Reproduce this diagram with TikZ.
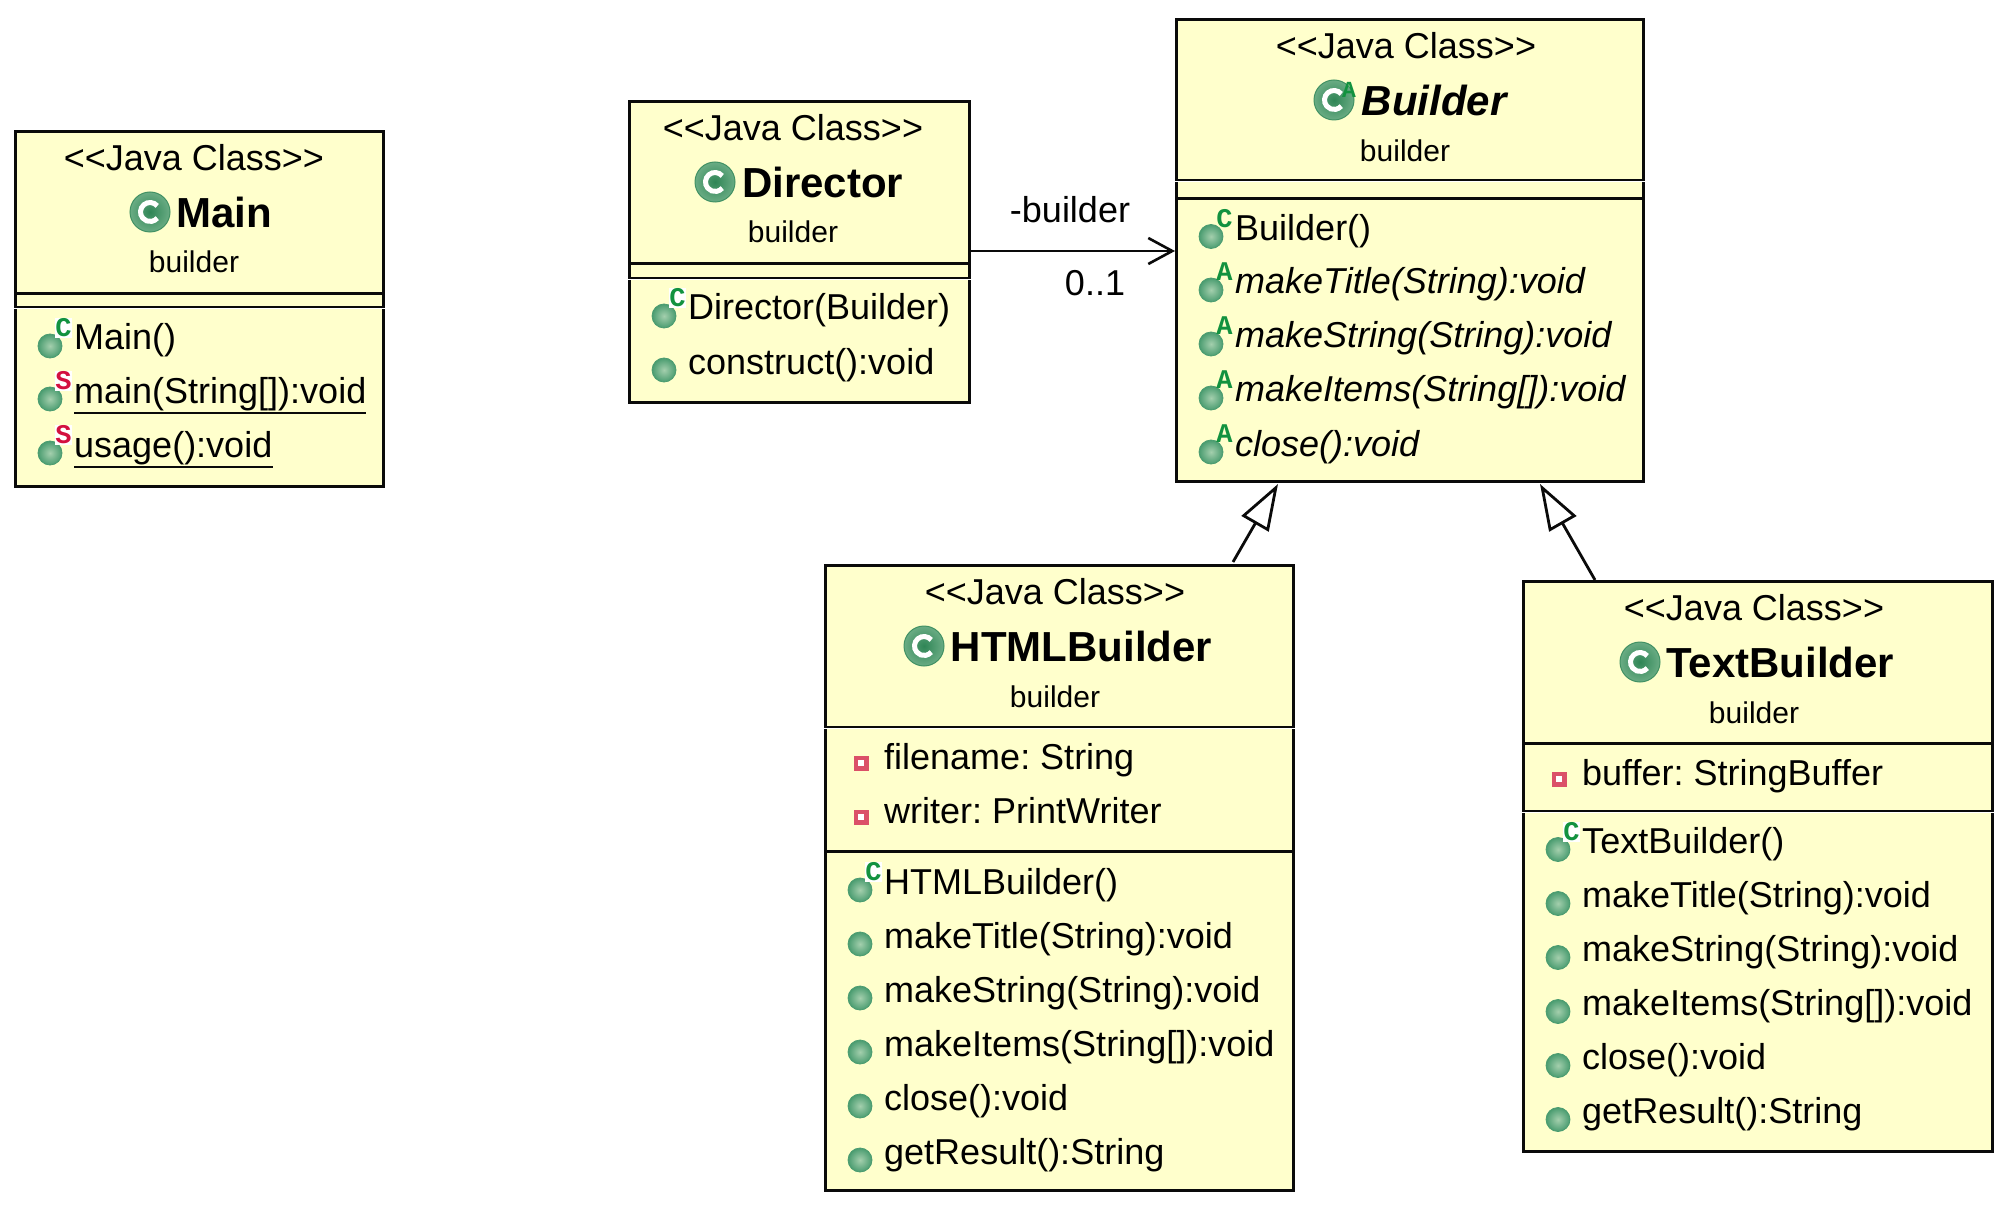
\documentclass[tikz,border=0pt]{standalone}
\usepackage{fontspec}
\setmainfont{Liberation Sans}
\newfontfamily\markfont{Liberation Mono}
\usetikzlibrary{arrows.meta,calc}
\definecolor{umlfill}{HTML}{FFFFCC}
\definecolor{umlline}{HTML}{0A0A0A}
\definecolor{ballin}{HTML}{A4CFAD}
\definecolor{ballout}{HTML}{4A9C70}
\definecolor{gout}{HTML}{6AAC84}
\definecolor{gin}{HTML}{2F8556}
\definecolor{markgreen}{HTML}{12923F}
\definecolor{markred}{HTML}{D3103F}
\definecolor{fieldred}{HTML}{DB5068}
\tikzset{
 x=1pt,y=-1pt,
 umlbox/.style={draw=umlline,fill=umlfill,line width=3pt,rectangle,inner sep=0pt,anchor=north west},
 sliver/.style={draw=white,line width=1.1pt},
 stereo/.style={anchor=base,inner sep=0pt,font=\fontsize{36}{40}\selectfont},
 pkg/.style={anchor=base,inner sep=0pt,font=\fontsize{30}{34}\selectfont},
 titletxt/.style={anchor=base west,inner sep=0pt,font=\fontsize{42}{46}\selectfont\bfseries},
 rowtxt/.style={anchor=base west,inner sep=0pt,font=\frenchspacing\fontsize{36}{40}\selectfont},
 ballicon/.style={circle,minimum size=24pt,inner sep=0pt,shading=radial,inner color=ballin,outer color=ballout,draw=ballout,line width=.8pt},
 gball/.style={circle,minimum size=40pt,inner sep=0pt,shading=radial,inner color=gin,middle color=gin,outer color=gout,draw=gin!70!gout,line width=1pt},
 markc/.style={inner sep=0pt,font=\fontsize{27}{27}\selectfont\markfont\bfseries,text=markgreen},
 marks/.style={inner sep=0pt,font=\fontsize{27}{27}\selectfont\markfont\bfseries,text=markred},
 markbg/.style={fill=white,minimum width=14pt,minimum height=20pt},
 fieldicon/.style={rectangle,minimum size=15pt,inner sep=0pt,fill=fieldred},
 fielddot/.style={rectangle,minimum size=5.5pt,inner sep=0pt,fill=white},
 assoc/.style={draw=umlline,line width=2.6pt,-{Straight Barb[length=24pt,width=26pt,line width=2.6pt]}},
 gen/.style={draw=umlline,line width=2.8pt,-{Triangle[open,length=46pt,width=31pt,line width=2.8pt,fill=white]}},
}
\newcommand{\compart}[5]{\node[umlbox,minimum width=#4-#2,minimum height=#5-#3] (#1) at (#2,#3) {};}
\newcommand{\glyphG}[1]{%
 \draw[white,line width=5pt] ([shift={(40:9.5pt)}]#1.center) arc[start angle=40,end angle=320,radius=9.5pt];}
% #1 name, #2 top, #3 centre, #4 title, #5 title x, #6 icon x
\newcommand{\headtxt}[6]{%
 \node[stereo] (#1st) at (#3,#2+40.5) {<{}<Java Class>{}>};
 \node[pkg] (#1pk) at (#3,#2+143) {builder};
 \node[gball] (#1gi) at (#6+1,#2+82) {};
 \glyphG{#1gi}
 \node[titletxt] (#1ti) at (#5,#2+97.5) {#4};
}
\newcommand{\mrow}[4]{\node[ballicon] (#1i) at (#2+36,#3-4) {};
 \node[rowtxt] (#1) at (#2+60,#3) {#4};}
\newcommand{\cmark}[3]{\node[markc] (#1m) at (#2+49.5,#3-22) {C};}
\newcommand{\cwmark}[3]{\node[markc,markbg] (#1m) at (#2+49.5,#3-22) {C};}
\newcommand{\smark}[3]{\node[marks,markbg] (#1m) at (#2+49.5,#3-22) {S};}
\newcommand{\amark}[3]{\node[markc] (#1m) at (#2+49.5,#3-22) {A};}
\newcommand{\frow}[4]{\node[fieldicon] (#1i) at (#2+37,#3-6) {};
 \node[fielddot] (#1d) at (#1i.center) {};
 \node[rowtxt] (#1) at (#2+60,#3) {#4};}
\newcommand{\ul}[1]{\draw[umlline,line width=2pt] ([yshift=-10pt]#1.base west) -- ([yshift=-10pt]#1.base east);}
\begin{document}
\begin{tikzpicture}
\useasboundingbox[fill=white] (0,0) rectangle (2006,1206);
\begin{scope}[shift={(-1,-1)}]
% Main
\compart{mainops}{15}{307}{383}{486}
\compart{mainattr}{15}{293}{383}{307}
\compart{mainhead}{15}{131}{383}{293}
\draw[sliver] ($(mainops.north west)+(-2,2.2)$) -- ($(mainops.north east)+(2,2.2)$);
\headtxt{main}{131}{195}{Main}{177}{150}
\mrow{mainr}{15}{351}{Main()}\cwmark{mainr}{15}{351}
\mrow{mainu}{15}{404}{main(String[]):void}\smark{mainu}{15}{404}
\mrow{mainv}{15}{458}{usage():void}\smark{mainv}{15}{458}
\ul{mainu}\ul{mainv}
% Director
\compart{dirops}{629}{278}{969}{402}
\compart{dirattr}{629}{263}{969}{278}
\compart{dirhead}{629}{101}{969}{263}
\draw[sliver] ($(dirops.north west)+(-2,2.2)$) -- ($(dirops.north east)+(2,2.2)$);
\headtxt{dir}{101}{794}{Director}{743}{715}
\mrow{dira}{629}{321}{Director(Builder)}\cwmark{dira}{629}{321}
\mrow{dirb}{629}{375}{construct():void}
% Builder
\compart{bldops}{1176}{198}{1643}{481}
\compart{bldattr}{1176}{180}{1643}{198}
\compart{bldhead}{1176}{19}{1643}{180}
\draw[sliver] ($(bldattr.north west)+(-2,2.2)$) -- ($(bldattr.north east)+(2,2.2)$);
\node[stereo] (bldst) at (1407,59.5) {<{}<Java Class>{}>};
\node[pkg] (bldpk) at (1406,163) {builder};
\node[gball] (bldgi) at (1335,101) {};
\glyphG{bldgi}
\node[markc,font=\fontsize{23}{23}\selectfont\markfont\bfseries] (bldgm) at (1350,91) {A};
\node[titletxt,font=\fontsize{42}{46}\selectfont\bfseries\itshape] (bldti) at (1362.5,116.5) {Builder};
\mrow{blda}{1176}{241.5}{Builder()}\cmark{blda}{1176}{241.5}
\mrow{bldb}{1176}{295}{\itshape makeTitle(String):void}\amark{bldb}{1176}{295}
\mrow{bldc}{1176}{349}{\itshape makeString(String):void}\amark{bldc}{1176}{349}
\mrow{bldd}{1176}{403}{\itshape makeItems(String[]):void}\amark{bldd}{1176}{403}
\mrow{blde}{1176}{457}{\itshape close():void}\amark{blde}{1176}{457}
% HTMLBuilder
\compart{htmlops}{825}{851}{1293}{1190}
\compart{htmlattr}{825}{727}{1293}{851}
\compart{htmlhead}{825}{565}{1293}{727}
\draw[sliver] ($(htmlattr.north west)+(-2,2.2)$) -- ($(htmlattr.north east)+(2,2.2)$);
\headtxt{html}{565}{1056}{HTMLBuilder}{951.5}{924}
\frow{htmla}{825}{770}{filename: String}
\frow{htmlb}{825}{824}{writer: PrintWriter}
\mrow{htmlc}{825}{895}{HTMLBuilder()}\cwmark{htmlc}{825}{895}
\mrow{htmld}{825}{949}{makeTitle(String):void}
\mrow{htmle}{825}{1003}{makeString(String):void}
\mrow{htmlf}{825}{1057}{makeItems(String[]):void}
\mrow{htmlg}{825}{1111}{close():void}
\mrow{htmlh}{825}{1165}{getResult():String}
% TextBuilder
\compart{txtops}{1523}{811}{1992}{1151}
\compart{txtattr}{1523}{743}{1992}{811}
\compart{txthead}{1523}{581}{1992}{743}
\draw[sliver] ($(txtops.north west)+(-2,2.2)$) -- ($(txtops.north east)+(2,2.2)$);
\headtxt{txt}{581}{1755}{TextBuilder}{1667}{1640}
\frow{txta}{1523}{786}{buffer: StringBuffer}
\mrow{txtb}{1523}{854.5}{TextBuilder()}\cwmark{txtb}{1523}{854.5}
\mrow{txtc}{1523}{908.5}{makeTitle(String):void}
\mrow{txtd}{1523}{962.5}{makeString(String):void}
\mrow{txte}{1523}{1016.5}{makeItems(String[]):void}
\mrow{txtf}{1523}{1070.5}{close():void}
\mrow{txtg}{1523}{1124.5}{getResult():String}
% Connectors
\coordinate (direast) at ($(dirops.north east)+(0,-26)$);
\draw[assoc] (direast) -- (direast -| bldops.west);
\node[rowtxt,anchor=base] (lblrole) at (1071,224) {-builder};
\node[rowtxt,anchor=base] (lblmult) at (1096,297) {0..1};
\draw[gen] ($(htmlhead.north west)+(409,-2)$) -- ($(bldops.south west)+(103,1)$);
\draw[gen] ($(txthead.north west)+(73,0)$) -- ($(bldops.south west)+(365,1)$);
\end{scope}
\end{tikzpicture}
\end{document}
